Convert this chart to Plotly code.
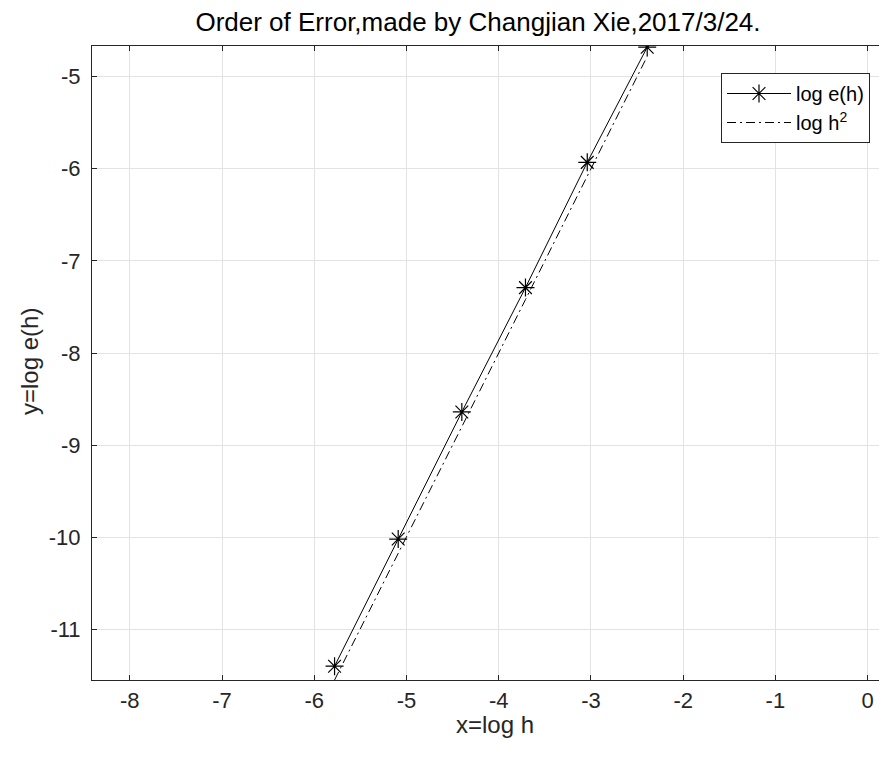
import plotly.graph_objects as go

# data
log_h = [-5.78, -5.09, -4.40, -3.71, -3.04, -2.39]
log_e = [-11.40, -10.02, -8.64, -7.29, -5.93, -4.68]
log_h2 = [-11.55, -10.18, -8.80, -7.42, -6.08, -4.78]

x_ticks = [-8, -7, -6, -5, -4, -3, -2, -1, 0]
x_tick_text = ["-8", "-7", "-6", "-5", "-4", "-3", "-2", "-1", "0"]
y_ticks = [-11, -10, -9, -8, -7, -6, -5]
y_tick_text = ["-11", "-10", "-9", "-8", "-7", "-6", "-5"]

FONT = "Liberation Sans, Arial, Helvetica, sans-serif"
AX = "#262626"
OFF = 8  # page body margin
W, H = 887 - OFF, 760 - OFF
L, R, T, B = 92 - OFF, 0, 46 - OFF, 80
PW, PH = W - L - R, H - T - B

fig = go.Figure()
fig.add_trace(go.Scatter(
    x=log_h, y=log_e, mode="lines+markers", name="log e(h)", legendgroup="a",
    line=dict(color="black", width=1),
    marker=dict(symbol="asterisk-open", size=15, color="black",
                line=dict(color="black", width=1.2)),
))
fig.add_trace(go.Scatter(
    x=log_h, y=log_h2, mode="lines", name="log h<sup>2</sup>", legendgroup="b",
    line=dict(color="black", width=1, dash="9px,4px,2px,4px"),
))

fig.update_layout(
    width=W, height=H,
    margin=dict(l=L, r=R, t=T, b=B, autoexpand=False),
    paper_bgcolor="white", plot_bgcolor="white",
    font=dict(family=FONT, size=22, color=AX),
    title=dict(text="Order of Error,made by Changjian Xie,2017/3/24.",
               x=(478 - OFF) / W, xanchor="center", y=1 - (22 - OFF) / H, yanchor="middle",
               font=dict(family=FONT, size=26, color="black")),
    showlegend=True,
    legend=dict(x=(870 - 92) / PW, xanchor="right", y=1 - 27 / PH, yanchor="top",
                bgcolor="white", bordercolor=AX, borderwidth=1,
                font=dict(family=FONT, size=20, color="black"),
                itemwidth=64, tracegroupgap=0, traceorder="grouped"),
    annotations=[
        dict(text="x=log h", xref="paper", yref="paper",
             x=(495 - 92) / PW, y=-(724 - 680) / PH, xanchor="center", yanchor="middle",
             showarrow=False, font=dict(family=FONT, size=24, color=AX)),
        dict(text="y=log e(h)", xref="paper", yref="paper", textangle=-90,
             x=-(92 - 29) / PW, y=1 - (362 - 46) / PH, xanchor="center", yanchor="middle",
             showarrow=False, font=dict(family=FONT, size=24, color=AX)),
    ],
)
fig.update_xaxes(
    range=[-8.41, 0.21], tickvals=x_ticks, ticktext=x_tick_text,
    showgrid=True, gridcolor="#e3e3e3", gridwidth=1, zeroline=False,
    showline=True, linecolor=AX, linewidth=1, mirror="ticks",
    ticks="inside", ticklen=5, tickcolor=AX, automargin=False,
    tickfont=dict(family=FONT, size=22, color=AX), ticklabelstandoff=1,
)
fig.update_yaxes(
    range=[-11.55, -4.667], tickvals=y_ticks, ticktext=y_tick_text,
    showgrid=True, gridcolor="#e3e3e3", gridwidth=1, zeroline=False,
    showline=True, linecolor=AX, linewidth=1, mirror=False,
    ticks="inside", ticklen=5, tickcolor=AX, automargin=False,
    tickfont=dict(family=FONT, size=22, color=AX), ticklabelstandoff=6,
)

fig.write_html("out.html")
